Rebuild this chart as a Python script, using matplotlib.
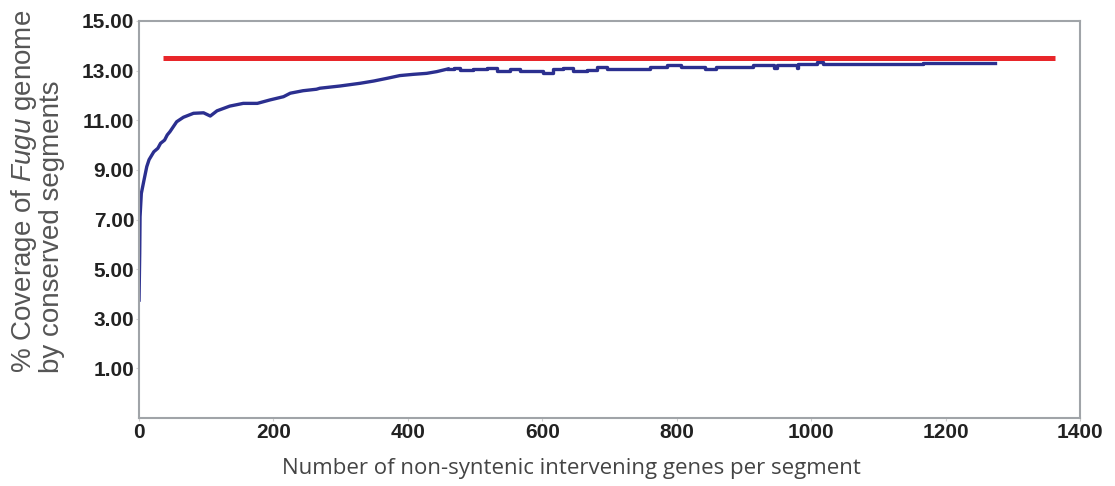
import numpy as np
import matplotlib
matplotlib.use("Agg")
import matplotlib.pyplot as plt
from matplotlib import font_manager

# blue curve: x = genes per segment, y = % coverage
cov_x = [0, 1, 1.5, 3.4, 7.4, 11.5, 14.9, 22, 28, 32, 38, 42, 46, 56, 66, 81,
         96, 106, 116, 135, 155, 176, 195, 215, 225, 244, 264, 269, 299, 329,
         349, 369, 388, 408, 428, 443, 460, 468, 478, 497, 517, 533, 552, 567,
         601, 616, 631, 646, 667, 682, 696, 750, 760, 786, 806, 842, 859, 914,
         945, 949, 979, 981, 1009, 1018, 1167, 1274]
cov_y = [3.75, 5.64, 7.11, 8.05, 8.59, 9.13, 9.41, 9.73, 9.87, 10.07, 10.2,
         10.41, 10.54, 10.94, 11.12, 11.28, 11.30, 11.17, 11.38, 11.57, 11.68,
         11.68, 11.82, 11.95, 12.09, 12.19, 12.25, 12.29, 12.38, 12.49, 12.58,
         12.69, 12.80, 12.85, 12.89, 12.96, 13.07, 13.09, 13.02, 13.07, 13.09,
         12.98, 13.05, 12.98, 12.92, 13.05, 13.09, 12.98, 13.02, 13.16, 13.08,
         13.08, 13.16, 13.23, 13.16, 13.05, 13.16, 13.23, 13.12, 13.23, 13.12,
         13.27, 13.33, 13.27, 13.32, 13.32]

# red reference line
ref_x = [36, 1363]
ref_y = [13.5, 13.5]

y_ticks = [1, 3, 5, 7, 9, 11, 13, 15]
x_ticks = [0, 200, 400, 600, 800, 1000, 1200, 1400]

installed = {f.name for f in font_manager.fontManager.ttflist}
tick_font = "Liberation Sans Narrow" if "Liberation Sans Narrow" in installed else "Liberation Sans"

plt.rcParams["mathtext.fontset"] = "custom"
plt.rcParams["mathtext.rm"] = "Liberation Sans"
plt.rcParams["mathtext.it"] = "Liberation Sans:italic"

fig = plt.figure(figsize=(11.15, 4.86), dpi=100)
ax = fig.add_axes([0.1247, 0.1399, 0.8439, 0.8169])

# rising part drawn as a line, the plateau as flat steps
split = cov_x.index(460)
blue = "#2b2f8f"
ax.plot(cov_x[:split + 1], cov_y[:split + 1], color=blue, linewidth=2.4)
ax.step(cov_x[split:], cov_y[split:], where="post", color=blue, linewidth=2.4)
ax.plot(ref_x, ref_y, color="#e8262a", linewidth=3.6, solid_capstyle="butt")

ax.set_xlim(0, 1400)
ax.set_ylim(-1, 15)
ax.set_xticks(x_ticks)
ax.set_yticks(y_ticks)
ax.set_yticklabels([f"{v:.2f}" for v in y_ticks])

for s in ax.spines.values():
    s.set_color("#a0a4a8")
    s.set_linewidth(1.5)

ax.tick_params(axis="both", length=2, color="#d0d0d0", pad=1.5)
for lab in ax.get_xticklabels() + ax.get_yticklabels():
    lab.set_fontfamily(tick_font)
    lab.set_fontweight("bold")
    lab.set_fontsize(15)
    lab.set_color("#222222")

ax.set_ylabel("% Coverage of $\\it{Fugu}$ genome\nby conserved segments",
              fontfamily="Liberation Sans", fontsize=20, color="#555555",
              linespacing=1.0, multialignment="left")
ax.yaxis.set_label_coords(-0.079, 0.57)
ax.set_xlabel("Number of non-syntenic intervening genes per segment",
              fontfamily="Open Sans", fontsize=16, color="#444444")
ax.xaxis.set_label_coords(0.46, -0.10)

fig.savefig("out.png", dpi=100)
